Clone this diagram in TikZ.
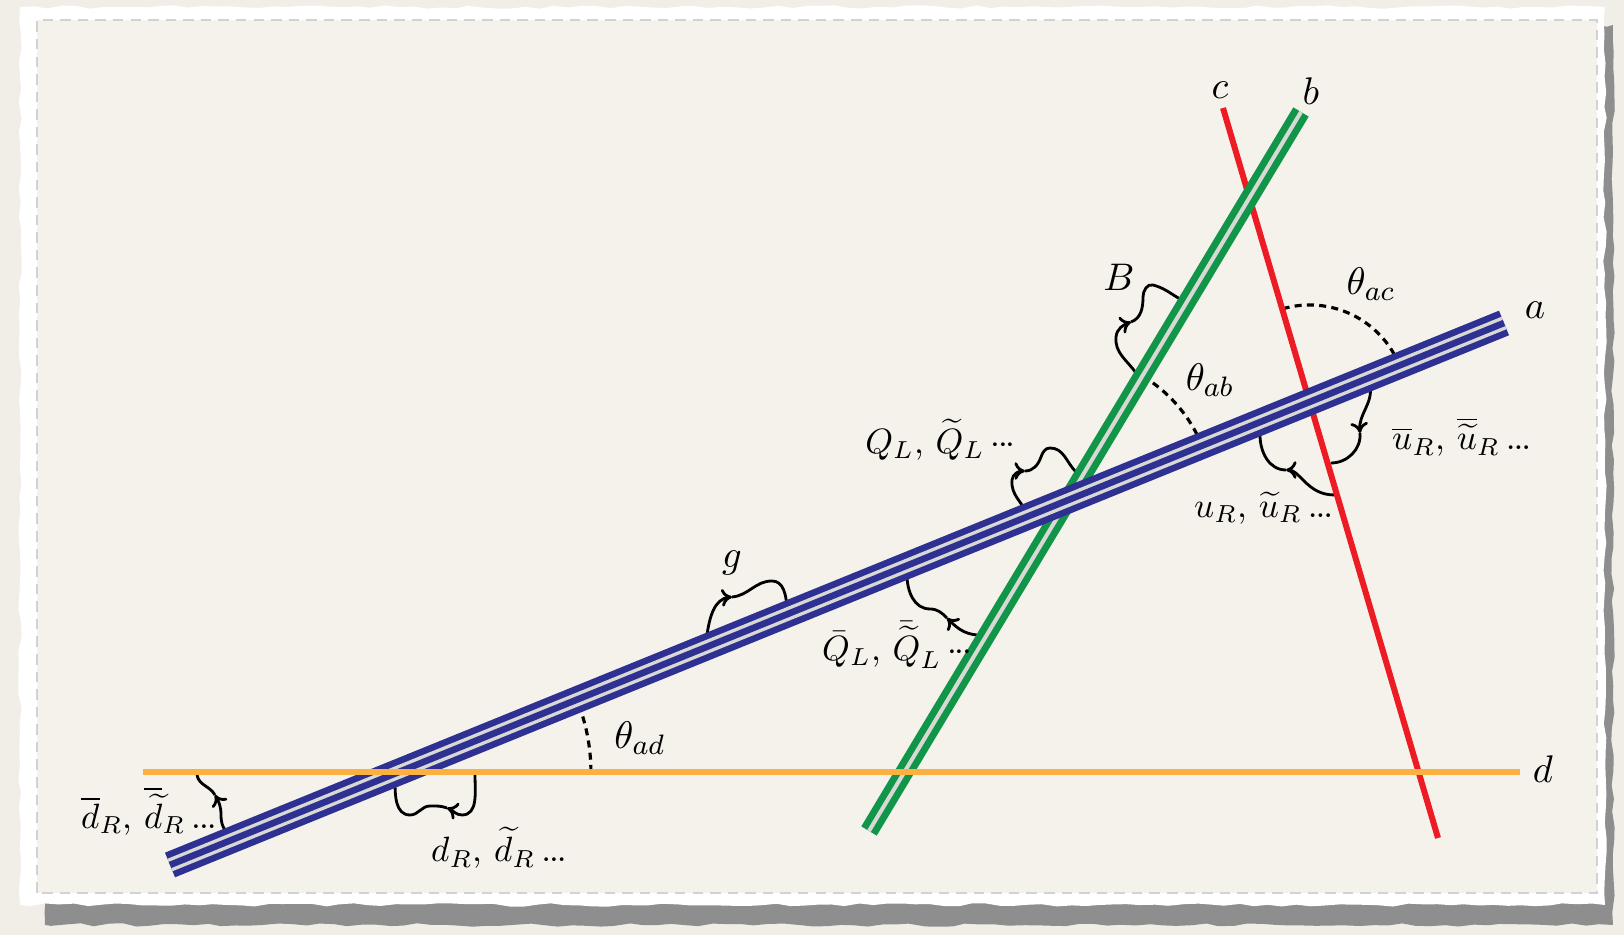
\documentclass[tikz,border=0pt]{standalone}
\usepackage{amsmath,amssymb}
\definecolor{pagebg}{HTML}{F1EEE8}
\definecolor{paper}{HTML}{F5F2EC}
\definecolor{shadowgray}{HTML}{8E8E8E}
\definecolor{braneblue}{HTML}{2E3192}
\definecolor{branegreen}{HTML}{119548}
\definecolor{branered}{HTML}{ED1C24}
\definecolor{braneorange}{HTML}{FBB040}
\definecolor{gapgray}{HTML}{D8D8D4}
\usetikzlibrary{arrows.meta,calc,decorations.pathmorphing}
\newcommand{\tdots}{\mathinner{{\cdot}\mkern-1mu{\cdot}\mkern-1mu{\cdot}}}
\newcommand{\tldots}{\mathinner{.\mkern-1mu.\mkern-1mu.}}

\begin{document}
\begin{tikzpicture}[
  every node/.style={font=\fontsize{11}{13}\selectfont,inner sep=1pt},
  flavour/.style={font=\fontsize{10}{12}\selectfont},
  brane2/.style={line width=0.07cm,double distance=0.04cm,double=gapgray},
  brane3/.style={line width=0.066cm,double distance=0.134cm,double=gapgray},
  openstring/.style={draw=black,line width=0.8pt},
  stringhead/.style={openstring,-{To[length=3pt,width=5pt]}},
  anglemark/.style={black,line width=0.9pt,dash pattern=on 2pt off 1.5pt},
  torn/.style={decorate,decoration={random steps,segment length=4pt,amplitude=0.5pt}},
]
  \pgfmathsetseed{7}
  \useasboundingbox (0,0) rectangle (16.24,9.35);

  % Paper
  \fill[pagebg] (0,0) rectangle (16.24,9.35);
  \fill[shadowgray,torn] (0.45,0.10) rectangle (16.13,9.10);
  \fill[white,torn] (0.20,0.30) rectangle (16.05,9.28);
  \fill[paper] (0.37,0.42) rectangle (15.97,9.15);
  \draw[gray!35,line width=0.3pt,dash pattern=on 3pt off 2pt] (0.37,0.42) rectangle (15.97,9.15);

  % Branes
  \coordinate (a0) at (1.70,0.70);  \coordinate (a1) at (15.04,6.12);
  \coordinate (b0) at (8.69,1.04);  \coordinate (b1) at (13.01,8.23);
  \coordinate (c0) at (12.23,8.27); \coordinate (c1) at (14.38,0.97);
  \coordinate (d0) at (1.43,1.63);  \coordinate (d1) at (15.20,1.63);
  \coordinate (ad) at (intersection of a0--a1 and d0--d1);
  \coordinate (ab) at (intersection of a0--a1 and b0--b1);
  \coordinate (ac) at (intersection of a0--a1 and c0--c1);

  % Angles
  \draw[anglemark] ($(ad)+(0:1.92)$) arc[start angle=0,end angle=22.1,radius=1.92];
  \draw[anglemark] ($(ab)+(22.1:1.45)$) arc[start angle=22.1,end angle=59,radius=1.45];
  \draw[anglemark] ($(ac)+(22.1:0.97)$) arc[start angle=22.1,end angle=106.4,radius=0.97];

  % Strings
  \coordinate (gL) at (7.07,3.00);   \coordinate (gm) at (7.32,3.38);  \coordinate (gR) at (7.87,3.28);
  \draw[stringhead] (gL) to[out=82,in=185] (gm);
  \draw[openstring] (gm) to[out=5,in=180] (7.72,3.54) to[out=0,in=95] (gR);

  \coordinate (Bb) at (11.36,5.62);  \coordinate (Bm) at (11.31,6.13); \coordinate (Bt) at (11.80,6.36);
  \draw[stringhead] (Bb) to[out=125,in=265] (11.16,5.98) to[out=85,in=200] (Bm);
  \draw[openstring] (Bm) to[out=20,in=270] (11.43,6.38) to[out=90,in=165] (11.53,6.50) to[out=-15,in=150] (Bt);

  \coordinate (QLa) at (10.28,4.20); \coordinate (QLm) at (10.25,4.64); \coordinate (QLb) at (10.76,4.63);
  \draw[stringhead] (QLa) to[out=115,in=265] (10.12,4.55) to[out=85,in=180] (QLm);
  \draw[openstring] (QLm) to[out=0,in=250] (10.41,4.78) to[out=70,in=180] (10.50,4.87) to[out=0,in=135] (QLb);

  \coordinate (QRb) at (9.77,3.00);  \coordinate (QRm) at (9.47,3.17); \coordinate (QRa) at (9.07,3.60);
  \draw[stringhead] (QRb) to[out=175,in=-45] (QRm);
  \draw[openstring] (QRm) to[out=135,in=0] (9.30,3.26) to[out=180,in=-90] (QRa);

  \coordinate (uRc) at (13.35,4.40); \coordinate (uRm) at (12.86,4.65); \coordinate (uRa) at (12.60,5.00);
  \draw[stringhead] (uRc) to[out=180,in=-45] (13.03,4.55) to[out=135,in=0] (uRm);
  \draw[openstring] (uRm) to[out=180,in=-90] (uRa);

  \coordinate (uBa) at (13.70,5.50); \coordinate (uBm) at (13.60,5.02); \coordinate (uBc) at (13.31,4.72);
  \draw[stringhead] (uBa) to[out=-80,in=95] (uBm);
  \draw[openstring] (uBm) to[out=-85,in=0] (uBc);

  \coordinate (dBa) at (2.32,1.00);  \coordinate (dBm) at (2.15,1.40); \coordinate (dBd) at (1.97,1.60);
  \draw[stringhead] (dBa) to[out=160,in=-90] (2.21,1.20) to[out=90,in=-60] (dBm);
  \draw[openstring] (dBm) to[out=120,in=-80] (dBd);

  \coordinate (dRd) at (4.75,1.60);  \coordinate (dRm) at (4.47,1.27); \coordinate (dRa) at (3.95,1.55);
  \draw[stringhead] (dRd) to[out=-90,in=0] (4.62,1.20) to[out=180,in=-20] (dRm);
  \draw[openstring] (dRm) to[out=160,in=0] (4.30,1.29) to[out=180,in=0] (4.10,1.20) to[out=180,in=-90] (dRa);

  % Brane lines
  \draw[branered,line width=0.06cm] (c0) -- (c1);
  \draw[brane2,draw=branegreen] (b0) -- (b1);
  \draw[brane3,draw=braneblue] (a0) -- (a1);
  \draw[braneblue,line width=0.066cm] (a0) -- (a1);
  \draw[braneorange,line width=0.06cm] (d0) -- (d1);

  % Labels
  \node (la) at (15.35,6.25) {$a$};
  \node (lb) at (13.11,8.44) {$b$};
  \node (lc) at (12.20,8.45) {$c$};
  \node (ld) at (15.43,1.66) {$d$};
  \node (lthad) at (6.40,1.97) {$\theta_{ad}$};
  \node (lthab) at (12.10,5.55) {$\theta_{ab}$};
  \node (lthac) at (13.71,6.51) {$\theta_{ac}$};
  \node (lB) at (11.19,6.58) {$B$};
  \node (lg) at (7.32,3.72) {$g$};
  \node[flavour,anchor=east] (lQL) at (10.20,4.95) {$Q_L$, $\widetilde{Q}_L\tdots$};
  \node[flavour,anchor=west] (lQLbar) at (8.18,2.90) {$\bar{Q}_L$, $\bar{\widetilde{Q}}_L\tdots$};
  \node[flavour,anchor=west] (luR) at (11.90,4.27) {$u_R$, $\widetilde{u}_R\tldots$};
  \node[flavour,anchor=west] (luRbar) at (13.88,4.98) {$\overline{u}_R$, $\overline{\widetilde{u}}_R\tldots$};
  \node[flavour,anchor=west] (ldRbar) at (0.77,1.24) {$\overline{d}_R$, $\overline{\widetilde{d}}_R\tldots$};
  \node[flavour,anchor=west] (ldR) at (4.27,0.87) {$d_R$, $\widetilde{d}_R\tldots$};
\end{tikzpicture}
\end{document}
